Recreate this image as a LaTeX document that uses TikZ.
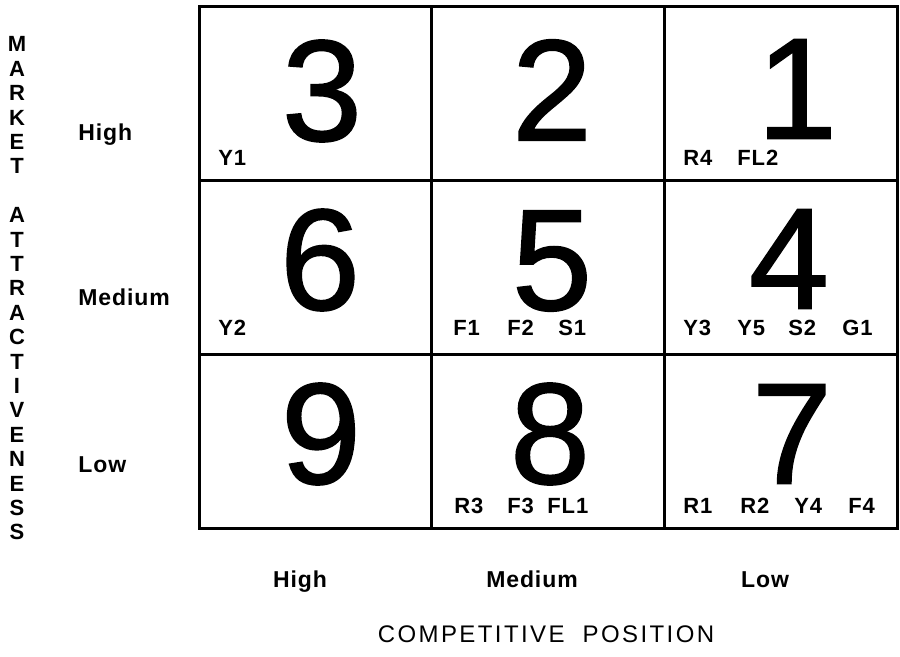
\documentclass[tikz,border=0pt]{standalone}
\usepackage{fontspec}
\setmainfont{Liberation Sans}
\newfontfamily\lblfont[LetterSpace=4]{Liberation Sans}
\newfontfamily\ttlfont[LetterSpace=10]{Liberation Sans}
\newfontfamily\digfont[FakeBold=1.2]{Liberation Sans}
\begin{document}
\begin{tikzpicture}[x=0.5pt,y=-0.5pt,
  big/.style={font=\digfont\fontsize{72}{72}\selectfont, inner sep=0pt},
  lbl/.style={font=\lblfont\bfseries\fontsize{11}{13}\selectfont, inner sep=0pt, anchor=base west},
  axislbl/.style={font=\lblfont\bfseries\fontsize{11.5}{13}\selectfont, inner sep=0pt, anchor=base},
  sidelbl/.style={font=\lblfont\bfseries\fontsize{11.5}{13}\selectfont, inner sep=0pt, anchor=base west},
  vlet/.style={font=\bfseries\fontsize{11}{12}\selectfont, inner sep=0pt, anchor=base},
  ttl/.style={font=\ttlfont\fontsize{12}{14}\selectfont, inner sep=0pt, anchor=base},
  gridline/.style={line width=1.5pt, line cap=rect}]
\useasboundingbox (0,0) rectangle (900,657);

% grid
\coordinate (tl) at (199,7);
\coordinate (br) at (897,529);
\draw[gridline] (tl) rectangle (br);
\coordinate (v1t) at (431.5,7);   \coordinate (v1b) at (431.5,529);
\coordinate (v2t) at (664.5,7);   \coordinate (v2b) at (664.5,529);
\coordinate (h1l) at (199,181);   \coordinate (h1r) at (897,181);
\coordinate (h2l) at (199,354.5); \coordinate (h2r) at (897,354.5);
\draw[gridline] (v1t) -- (v1b);
\draw[gridline] (v2t) -- (v2b);
\draw[gridline] (h1l) -- (h1r);
\draw[gridline] (h2l) -- (h2r);

% big digits
\node[big] (d3) at (322,91) {3};
\node[big] (d2) at (552,90) {2};
\node[big] (d1) at (797,89) {1};
\node[big] (d6) at (320,260) {6};
\node[big] (d5) at (552,261) {5};
\node[big] (d4) at (789,259) {4};
\node[big] (d9) at (321,434) {9};
\node[big] (d8) at (550,434) {8};
\node[big] (d7) at (792,434) {7};

% cell labels
\node[lbl] (y1) at (218,166) {Y1};
\node[lbl] (r4) at (683,166) {R4};
\node[lbl] (fl2) at (737,166) {FL2};

\node[lbl] (y2) at (218,336) {Y2};
\node[lbl] (f1) at (453,336) {F1};
\node[lbl] (f2) at (507,336) {F2};
\node[lbl] (s1) at (558,336) {S1};
\node[lbl] (y3) at (683,336) {Y3};
\node[lbl] (y5) at (737,336) {Y5};
\node[lbl] (s2) at (788,336) {S2};
\node[lbl] (g1) at (842,336) {G1};

\node[lbl] (r3) at (454,514) {R3};
\node[lbl] (f3) at (507,514) {F3};
\node[lbl] (fl1) at (547,514) {FL1};
\node[lbl] (r1) at (683,514) {R1};
\node[lbl] (r2) at (740,514) {R2};
\node[lbl] (y4) at (794,514) {Y4};
\node[lbl] (f4) at (848,514) {F4};

% side labels
\node[sidelbl] (ah) at (78,141) {High};
\node[sidelbl] (am) at (78,306) {Medium};
\node[sidelbl] (al) at (78,473) {Low};

% bottom labels
\node[axislbl] (ch) at (300,588) {High};
\node[axislbl] (cm) at (532,588) {Medium};
\node[axislbl] (cl) at (765,588) {Low};

\node[ttl] (title) at (546,642) {COMPETITIVE\ \ POSITION};

% vertical title
\foreach \c [count=\i from 0] in {M,A,R,K,E,T}
  \node[vlet] (mk\i) at (17,{52+24.4*\i}) {\c};
\foreach \c [count=\i from 0] in {A,T,T,R,A,C,T,I,V,E,N,E,S,S}
  \node[vlet] (at\i) at (17,{52+24.4*(\i+7)}) {\c};
\end{tikzpicture}
\end{document}
